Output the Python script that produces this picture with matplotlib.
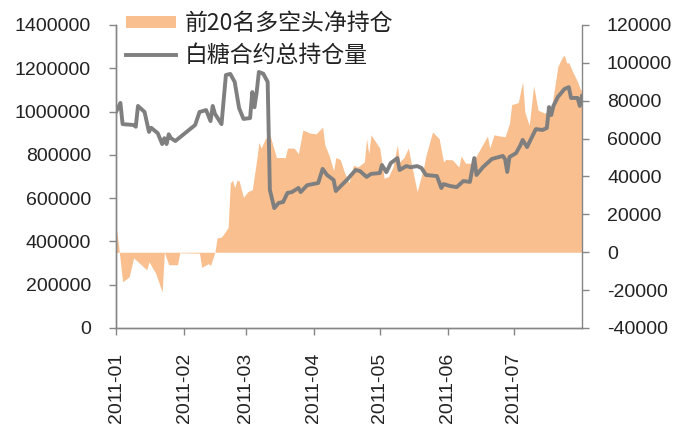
import pandas as pd
import matplotlib
matplotlib.use('Agg')
import matplotlib.pyplot as plt
import matplotlib.dates as mdates
import matplotlib.ticker as mticker

# 白糖合约总持仓量 (left axis)
oi_dates = ['2011-01-01', '2011-01-03', '2011-01-04', '2011-01-09', '2011-01-10', '2011-01-11',
            '2011-01-14', '2011-01-16', '2011-01-17', '2011-01-20', '2011-01-22', '2011-01-23',
            '2011-01-24', '2011-01-25', '2011-01-26', '2011-01-28', '2011-02-06', '2011-02-08',
            '2011-02-11', '2011-02-13', '2011-02-14', '2011-02-15', '2011-02-18', '2011-02-20',
            '2011-02-22', '2011-02-24', '2011-02-26', '2011-02-28', '2011-03-03', '2011-03-04',
            '2011-03-05', '2011-03-06', '2011-03-07', '2011-03-09', '2011-03-11', '2011-03-12',
            '2011-03-14', '2011-03-16', '2011-03-18', '2011-03-20', '2011-03-22', '2011-03-25',
            '2011-03-26', '2011-03-29', '2011-04-03', '2011-04-05', '2011-04-07', '2011-04-10',
            '2011-04-11', '2011-04-16', '2011-04-20', '2011-04-22', '2011-04-25', '2011-04-27',
            '2011-05-01', '2011-05-02', '2011-05-04', '2011-05-06', '2011-05-09', '2011-05-10',
            '2011-05-13', '2011-05-15', '2011-05-18', '2011-05-20', '2011-05-22', '2011-05-27',
            '2011-05-29', '2011-05-30', '2011-06-02', '2011-06-05', '2011-06-08', '2011-06-11',
            '2011-06-13', '2011-06-14', '2011-06-17', '2011-06-21', '2011-06-26', '2011-06-27',
            '2011-06-28', '2011-06-29', '2011-07-02', '2011-07-04', '2011-07-05', '2011-07-07',
            '2011-07-11', '2011-07-14', '2011-07-16', '2011-07-17', '2011-07-18', '2011-07-19',
            '2011-07-21', '2011-07-24', '2011-07-26', '2011-07-27', '2011-07-30', '2011-07-31',
            '2011-08-01']
oi_values = [998000, 1040000, 942000, 938000, 930000, 1026000,
             998000, 906000, 925000, 900000, 850000, 877000,
             850000, 895000, 877000, 864000, 938000, 998000,
             1007000, 956000, 1026000, 990000, 942000, 1169000,
             1174000, 1137000, 1016000, 966000, 970000, 1090000,
             1020000, 1090000, 1183000, 1175000, 1137000, 638000,
             554000, 578000, 582000, 624000, 628000, 647000,
             628000, 660000, 670000, 735000, 707000, 684000,
             633000, 684000, 730000, 725000, 698000, 712000,
             716000, 753000, 720000, 762000, 785000, 730000,
             748000, 743000, 748000, 739000, 707000, 702000,
             647000, 665000, 656000, 651000, 679000, 675000,
             785000, 707000, 744000, 781000, 795000, 780000,
             721000, 790000, 808000, 845000, 869000, 836000,
             919000, 915000, 924000, 1021000, 984000, 1026000,
             1067000, 1104000, 1113000, 1063000, 1063000, 1026000,
             1072000]

# 前20名多空头净持仓 (right axis)
net_dates = ['2011-01-01', '2011-01-02', '2011-01-04', '2011-01-07', '2011-01-09', '2011-01-11',
             '2011-01-15', '2011-01-16', '2011-01-19', '2011-01-22', '2011-01-23', '2011-01-25',
             '2011-01-29', '2011-01-30', '2011-02-08', '2011-02-09', '2011-02-12', '2011-02-13',
             '2011-02-15', '2011-02-16', '2011-02-18', '2011-02-21', '2011-02-22', '2011-02-23',
             '2011-02-24', '2011-02-25', '2011-02-26', '2011-02-28', '2011-03-02', '2011-03-04',
             '2011-03-06', '2011-03-07', '2011-03-08', '2011-03-10', '2011-03-12', '2011-03-13',
             '2011-03-15', '2011-03-19', '2011-03-20', '2011-03-23', '2011-03-25', '2011-03-27',
             '2011-03-30', '2011-04-02', '2011-04-05', '2011-04-06', '2011-04-08', '2011-04-10',
             '2011-04-11', '2011-04-13', '2011-04-15', '2011-04-17', '2011-04-19', '2011-04-21',
             '2011-04-24', '2011-04-25', '2011-04-26', '2011-04-27', '2011-05-01', '2011-05-03',
             '2011-05-05', '2011-05-07', '2011-05-09', '2011-05-10', '2011-05-12', '2011-05-14',
             '2011-05-15', '2011-05-18', '2011-05-21', '2011-05-22', '2011-05-25', '2011-05-28',
             '2011-05-30', '2011-05-31', '2011-06-03', '2011-06-06', '2011-06-07', '2011-06-09',
             '2011-06-12', '2011-06-14', '2011-06-19', '2011-06-20', '2011-06-22', '2011-06-24',
             '2011-06-27', '2011-06-29', '2011-06-30', '2011-07-03', '2011-07-05', '2011-07-06',
             '2011-07-08', '2011-07-10', '2011-07-11', '2011-07-12', '2011-07-15', '2011-07-18',
             '2011-07-21', '2011-07-23', '2011-07-24', '2011-07-25', '2011-07-26', '2011-07-28',
             '2011-07-30', '2011-07-31', '2011-08-01']
net_values = [13400, 5500, -15600, -13000, -3000, -5000,
              -9300, -5000, -11000, -21000, 0, -6600,
              -6600, -300, -500, -8000, -6000, -7000,
              0, 7600, 8000, 13000, 36600, 38000,
              34000, 38000, 37700, 29000, 32000, 33000,
              48800, 58000, 55000, 60000, 62000, 58000,
              50000, 50000, 55000, 55000, 52000, 64600,
              63000, 62500, 66000, 56700, 51000, 43000,
              50000, 49000, 42000, 36600, 46000, 45000,
              47700, 60000, 52000, 62000, 55000, 39000,
              40000, 45000, 56700, 47700, 50000, 55000,
              48800, 32000, 45000, 51000, 63500, 60000,
              47700, 49000, 48800, 45000, 50800, 47000,
              47000, 51000, 61400, 55000, 62000, 61500,
              61000, 68000, 78000, 79000, 90000, 74000,
              67000, 88000, 81500, 75000, 73500, 75000,
              98000, 103000, 104000, 100000, 100000, 94700,
              90000, 86700, 85000]

left_ticks = [0, 200000, 400000, 600000, 800000, 1000000, 1200000, 1400000]
right_ticks = [-40000, -20000, 0, 20000, 40000, 60000, 80000, 100000, 120000]
month_ticks = ['2011-01-01', '2011-02-01', '2011-03-01', '2011-04-01',
               '2011-05-01', '2011-06-01', '2011-07-01']

orange = '#F9BF8F'
gray = '#7F7F7F'
axis_color = '#868686'

oi_x = pd.to_datetime(oi_dates)
net_x = pd.to_datetime(net_dates)

fig = plt.figure(figsize=(6.79, 4.28), dpi=100)
ax1 = fig.add_axes([116 / 679, 1 - 328 / 428, (582 - 116) / 679, (328 - 25) / 428])
ax2 = ax1.twinx()

area = ax2.fill_between(net_x, net_values, 0, color=orange, linewidth=0,
                        label='前20名多空头净持仓')
line, = ax1.plot(oi_x, oi_values, color=gray, linewidth=2.8, solid_joinstyle='round',
                 label='白糖合约总持仓量')

# line above the area
ax1.set_zorder(ax2.get_zorder() + 1)
ax1.patch.set_visible(False)

ax1.set_ylim(0, 1400000)
ax2.set_ylim(-40000, 120000)
ax1.set_yticks(left_ticks)
ax2.set_yticks(right_ticks)
plain = mticker.FuncFormatter(lambda v, p: '%d' % v)
ax1.yaxis.set_major_formatter(plain)
ax2.yaxis.set_major_formatter(plain)
ax1.set_xlim(pd.Timestamp('2011-01-01'), pd.Timestamp('2011-08-01'))
ax1.set_xticks(pd.to_datetime(month_ticks))
ax1.xaxis.set_major_formatter(mdates.DateFormatter('%Y-%m'))

for ax in (ax1, ax2):
    for s in ax.spines.values():
        s.set_color(axis_color)
        s.set_linewidth(1.0)
    ax.spines['top'].set_visible(False)
    ax.tick_params(colors=axis_color, length=5, width=1.0, pad=13, labelcolor='#222222')
ax1.spines['right'].set_visible(False)

for lbl in ax1.get_yticklabels() + ax2.get_yticklabels() + ax1.get_xticklabels():
    lbl.set_fontfamily('Liberation Sans')
    lbl.set_fontsize(14)
for lbl in ax1.get_xticklabels():
    lbl.set_rotation(90)

leg = ax1.legend([area, line], ['前20名多空头净持仓', '白糖合约总持仓量'],
                 loc='upper left', bbox_to_anchor=(126 / 679, 1 - 12 / 428),
                 bbox_transform=fig.transFigure, frameon=False,
                 prop={'family': ['Noto Sans CJK SC', 'DejaVu Sans'], 'size': 16.5},
                 handlelength=2.2, handleheight=0.45, handletextpad=0.35,
                 labelspacing=0.38, borderpad=0, borderaxespad=0)
for t in leg.get_texts():
    t.set_color('#222222')

plt.savefig('out.png', dpi=100)
